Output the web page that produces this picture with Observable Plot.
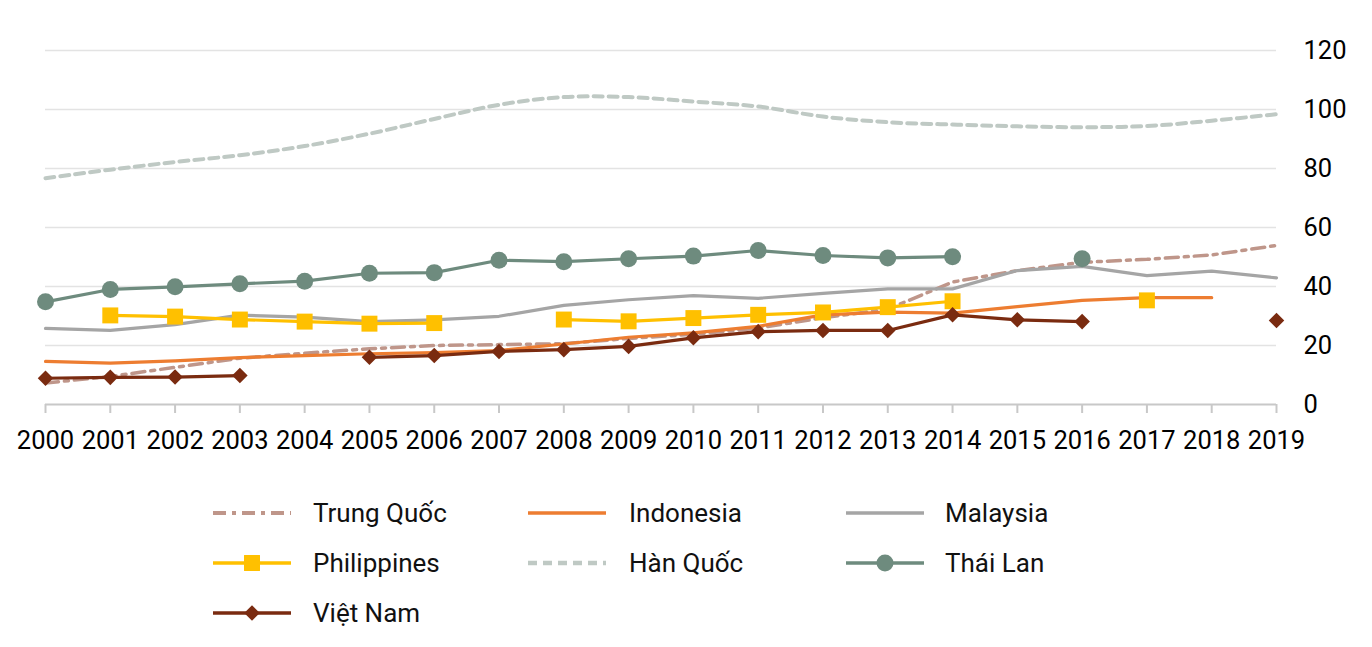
<!DOCTYPE html>
<html><head><meta charset="utf-8">
<script src="https://cdn.jsdelivr.net/npm/d3@7"></script>
<script src="https://cdn.jsdelivr.net/npm/@observablehq/plot@0.6"></script>
<style>
body{margin:0;background:#fff;font-family:Roboto,sans-serif;}
#legend{position:relative;height:177px;width:1372px;}
.item{position:absolute;height:40px;display:flex;align-items:center;font-size:26px;color:#111;}
.item svg{display:block}
.item span{position:absolute;white-space:nowrap;line-height:40px;top:0;}
</style></head><body>
<div id="chart"></div><div id="legend"></div>
<script>
const years = [2000,2001,2002,2003,2004,2005,2006,2007,2008,2009,2010,2011,2012,2013,2014,2015,2016,2017,2018,2019];
const yTicks = [0,20,40,60,80,100,120];

const trungQuoc   = [7.3, 9.5, 12.6, 15.7, 17.4, 18.9, 20.0, 20.3, 20.6, 22.4, 23.8, 25.9, 29.4, 32.3, 41.5, 45.4, 48.2, 49.2, 50.7, 53.9];
const indonesia   = [14.6, 14.0, 14.8, 15.9, 16.6, 17.2, 17.6, 18.3, 20.5, 22.8, 24.3, 26.5, 30.4, 31.3, 31.0, 33.2, 35.3, 36.2, 36.2, null];
const malaysia    = [25.8, 25.1, 27.1, 30.3, 29.6, 28.1, 28.7, 29.9, 33.6, 35.5, 36.9, 36.0, 37.7, 39.2, 39.2, 45.4, 46.8, 43.7, 45.2, 42.9];
const philippines = [null, 30.2, 29.8, 28.8, 28.1, 27.4, 27.6, null, 28.8, 28.2, 29.3, 30.4, 31.2, 33.0, 35.0, null, null, 35.3, null, null];
const hanQuoc     = [76.7, 79.6, 82.2, 84.5, 87.6, 91.8, 96.8, 101.6, 104.2, 104.2, 102.7, 101.0, 97.6, 95.7, 94.9, 94.3, 94.0, 94.4, 96.2, 98.4];
const thaiLan     = [34.8, 39.0, 39.9, 40.9, 41.8, 44.5, 44.7, 48.9, 48.4, 49.4, 50.3, 52.2, 50.5, 49.7, 50.1, null, 49.4, null, null, null];
const vietNam     = [8.9, 9.2, 9.3, 9.8, null, 16.0, 16.6, 18.0, 18.6, 19.7, 22.6, 24.7, 25.1, 25.1, 30.4, 28.7, 28.1, null, null, 28.5];

const seriesNames = ["Trung Quốc","Indonesia","Malaysia","Philippines","Hàn Quốc","Thái Lan","Việt Nam"];
const seriesValues = [trungQuoc, indonesia, malaysia, philippines, hanQuoc, thaiLan, vietNam];

const styles = {
  "Trung Quốc":  {color:"#bf968a", width:3.5, dash:"13,6,4,6", symbol:null, curve:"linear"},
  "Indonesia":   {color:"#ed7d31", width:3.2, dash:null, symbol:null, curve:"linear"},
  "Malaysia":    {color:"#a5a5a5", width:3.2, dash:null, symbol:null, curve:"linear"},
  "Philippines": {color:"#ffc000", width:3.2, dash:null, symbol:"square", r:9, curve:"linear"},
  "Hàn Quốc":    {color:"#bfc9c4", width:4, dash:"9,6", symbol:null, curve:"catmull-rom"},
  "Thái Lan":    {color:"#6e8b7e", width:3.2, dash:null, symbol:"circle", r:8.5, curve:"linear"},
  "Việt Nam":    {color:"#7a2b10", width:3.2, dash:null, symbol:"diamond2", r:7, curve:"linear"}
};

const marks = [
  Plot.ruleY(yTicks.filter(t => t > 0), {stroke:"#e3e3e3", strokeWidth:1.5}),
  Plot.ruleY([0], {stroke:"#c8c8c8", strokeWidth:2}),
  Plot.axisX({ticks: years, tickFormat: d => String(d), tickSize: 9, tickPadding: 17, stroke:"#c8c8c8", strokeWidth:2, fill:"#000", fontSize:25.5, label:null}),
  Plot.axisY({anchor:"right", ticks: yTicks, tickSize: 0, tickPadding: 27, fill:"#000", fontSize:25.5, textAnchor:"start", label:null})
];

seriesNames.forEach((name, k) => {
  const s = styles[name];
  const rows = years.map((year, i) => ({year, value: seriesValues[k][i]}));
  marks.push(Plot.lineY(rows, {x:"year", y:"value", stroke:s.color, strokeWidth:s.width, strokeDasharray:s.dash, curve:s.curve}));
  if (s.symbol) {
    marks.push(Plot.dot(rows.filter(d => d.value != null), {x:"year", y:"value", symbol:s.symbol, r:s.r, fill:s.color, stroke:"none"}));
  }
});

const chart = Plot.plot({
  width: 1372,
  height: 470,
  marginLeft: 45,
  marginRight: 96,
  marginTop: 50,
  marginBottom: 66,
  style: {fontFamily:"Roboto, sans-serif", fontSize:"25.5px", background:"#fff", overflow:"visible"},
  x: {domain:[2000, 2019], axis:null},
  y: {domain:[0, 120], axis:null},
  marks
});
document.getElementById("chart").appendChild(chart);

// legend
const legend = d3.select("#legend");
const colX = [212, 527, 845];
const textX = [313, 629, 945];
const rowY = [43, 93, 143];
seriesNames.forEach((name, k) => {
  const s = styles[name];
  const c = k % 3, r = Math.floor(k / 3);
  const item = legend.append("div").attr("class","item")
    .style("left", colX[c] + "px").style("top", (rowY[r] - 20) + "px");
  const svg = item.append("svg").attr("width", 80).attr("height", 40);
  svg.append("line").attr("x1", 1).attr("x2", 79).attr("y1", 20).attr("y2", 20)
    .attr("stroke", s.color).attr("stroke-width", s.width + 0.5)
    .attr("stroke-dasharray", s.dash);
  if (s.symbol) {
    const sym = {square: d3.symbolSquare, circle: d3.symbolCircle, diamond2: d3.symbolDiamond2}[s.symbol];
    svg.append("path").attr("transform","translate(40,20)")
      .attr("d", d3.symbol(sym, Math.PI * s.r * s.r)())
      .attr("fill", s.color);
  }
  item.append("span").style("left", (textX[c] - colX[c]) + "px").text(name);
});
</script>
</body></html>
